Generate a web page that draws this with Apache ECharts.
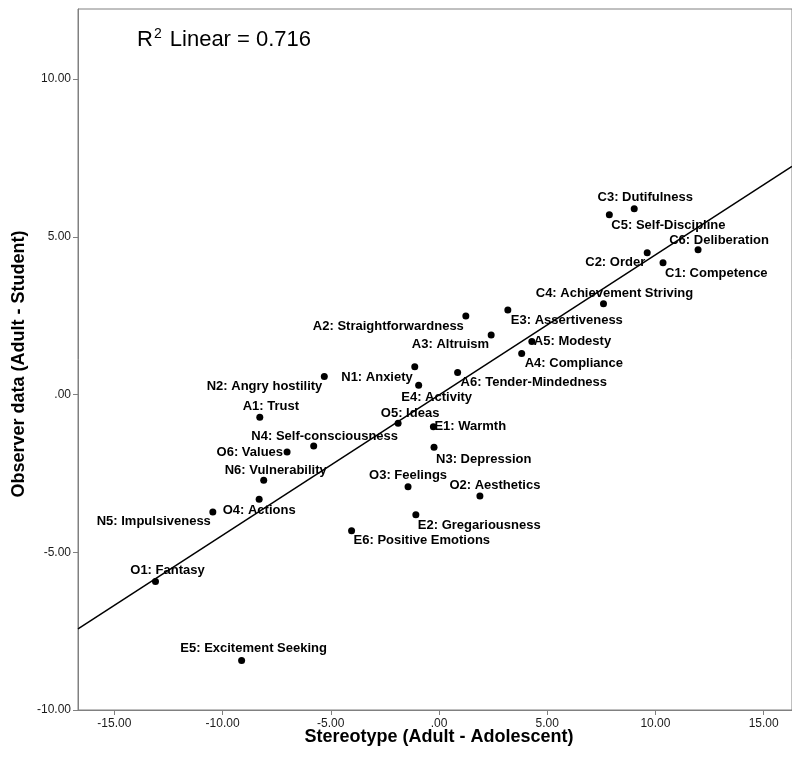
<!DOCTYPE html>
<html>
<head>
<meta charset="utf-8">
<script src="https://cdn.jsdelivr.net/npm/echarts@6/dist/echarts.min.js"></script>
<style>
  html, body { margin: 0; padding: 0; background: #fff; }
  #chart { width: 792px; height: 758px; }
</style>
</head>
<body>
<div id="chart"></div>
<script>
// ---------- data ----------
const facetNames = [
  'N1: Anxiety', 'N2: Angry hostility', 'N3: Depression', 'N4: Self-consciousness',
  'N5: Impulsiveness', 'N6: Vulnerability',
  'E1: Warmth', 'E2: Gregariousness', 'E3: Assertiveness', 'E4: Activity',
  'E5: Excitement Seeking', 'E6: Positive Emotions',
  'O1: Fantasy', 'O2: Aesthetics', 'O3: Feelings', 'O4: Actions', 'O5: Ideas', 'O6: Values',
  'A1: Trust', 'A2: Straightforwardness', 'A3: Altruism', 'A4: Compliance', 'A5: Modesty',
  'A6: Tender-Mindedness',
  'C1: Competence', 'C2: Order', 'C3: Dutifulness', 'C4: Achievement Striving',
  'C5: Self-Discipline', 'C6: Deliberation'
];
const stereotypeX = [
  -1.12, -5.30, -0.23, -5.79, -10.45, -8.10,
  -0.26, -1.07, 3.18, -0.94, -9.12, -4.04,
  -13.10, 1.89, -1.43, -8.31, -1.89, -7.02,
  -8.28, 1.24, 2.41, 3.82, 4.29, 0.86,
  10.35, 9.62, 9.02, 7.60, 7.87, 11.97
];
const observerY = [
  0.88, 0.57, -1.67, -1.63, -3.72, -2.72,
  -1.02, -3.81, 2.68, 0.29, -8.43, -4.32,
  -5.93, -3.22, -2.92, -3.32, -0.91, -1.82,
  -0.72, 2.49, 1.89, 1.30, 1.68, 0.70,
  4.18, 4.49, 5.89, 2.88, 5.70, 4.59
];
// fitted linear regression line (endpoints read at the plot edges)
const fitLineX = [-16.68, 16.31];
const fitLineY = [-7.43, 7.23];
const rSquared = '0.716';
const xTickValues = [-15, -10, -5, 0, 5, 10, 15];
const yTickValues = [-10, -5, 0, 5, 10];
const xTitle = 'Stereotype (Adult - Adolescent)';
const yTitle = 'Observer data (Adult - Student)';

// ---------- label placement (style): [align, dx, dy] relative to the dot centre ----------
const labelPlace = {
  'C3: Dutifulness': ['center', 11, -11],
  'C5: Self-Discipline': ['left', 2, 11],
  'C6: Deliberation': ['center', 21, -9],
  'C2: Order': ['right', -2, 10],
  'C1: Competence': ['left', 2, 11],
  'C4: Achievement Striving': ['center', 11, -10],
  'E3: Assertiveness': ['left', 3, 10],
  'A2: Straightforwardness': ['right', -2, 10],
  'A3: Altruism': ['right', -2, 10],
  'A5: Modesty': ['left', 2, 0],
  'A4: Compliance': ['left', 3, 10],
  'A6: Tender-Mindedness': ['left', 3, 10],
  'N1: Anxiety': ['right', -2, 11],
  'E4: Activity': ['center', 18, 12],
  'O5: Ideas': ['center', 12, -10],
  'E1: Warmth': ['left', 1, 0],
  'N3: Depression': ['left', 2, 12],
  'O3: Feelings': ['center', 0, -11],
  'O2: Aesthetics': ['center', 15, -11],
  'E2: Gregariousness': ['left', 2, 11],
  'E6: Positive Emotions': ['left', 2, 10],
  'N2: Angry hostility': ['right', -2, 10],
  'A1: Trust': ['center', 11, -11],
  'N4: Self-consciousness': ['center', 11, -10],
  'O6: Values': ['right', -4, 0],
  'N6: Vulnerability': ['center', 12, -10],
  'O4: Actions': ['center', 0, 11],
  'N5: Impulsiveness': ['right', -2, 10],
  'O1: Fantasy': ['center', 12, -11],
  'E5: Excitement Seeking': ['center', 12, -12]
};

const FONT = '"Liberation Sans", Arial, sans-serif';
const axisGray = '#808080';
const SYM = 7;

const scatterData = facetNames.map((name, i) => {
  const p = labelPlace[name] || ['center', 0, -10];
  return {
    name: name,
    value: [stereotypeX[i], observerY[i]],
    label: {
      position: [SYM / 2 + p[1], SYM / 2 + p[2]],
      align: p[0], verticalAlign: 'middle'
    }
  };
});

const fmt = v => (v === 0 ? '.00' : v.toFixed(2));

const chart = echarts.init(document.getElementById('chart'), null, { renderer: 'canvas' });
chart.setOption({
  animation: false,
  backgroundColor: '#fff',
  grid: {
    left: 78, top: 9, right: -2, bottom: 48,
    show: true, borderColor: axisGray, borderWidth: 1, backgroundColor: 'transparent'
  },
  xAxis: {
    type: 'value', min: fitLineX[0], max: fitLineX[1],
    splitLine: { show: false },
    axisLine: { show: true, onZero: false, lineStyle: { color: axisGray, width: 1 } },
    axisTick: { show: true, inside: false, length: 5, customValues: xTickValues,
      lineStyle: { color: axisGray } },
    axisLabel: { customValues: xTickValues, formatter: fmt, margin: 8,
      color: '#1a1a1a', fontSize: 12, fontFamily: FONT }
  },
  yAxis: {
    type: 'value', min: -10, max: 12.22,
    splitLine: { show: false },
    axisLine: { show: true, onZero: false, lineStyle: { color: axisGray, width: 1 } },
    axisTick: { show: true, inside: false, length: 5, customValues: yTickValues,
      lineStyle: { color: axisGray } },
    axisLabel: { customValues: yTickValues, formatter: fmt, margin: 7,
      color: '#1a1a1a', fontSize: 12, fontFamily: FONT }
  },
  title: {
    text: '{a|R}{s|2}{a| Linear = ' + rSquared + '}',
    left: 137, top: 27, padding: 0,
    textStyle: {
      fontWeight: 'normal',
      rich: {
        a: { fontSize: 22, fontWeight: 'normal', fontFamily: FONT, color: '#000', verticalAlign: 'bottom', lineHeight: 24 },
        s: { fontSize: 14, fontWeight: 'normal', fontFamily: FONT, color: '#000', verticalAlign: 'top', lineHeight: 24, padding: [0, 2, 0, 1] }
      }
    }
  },
  graphic: [
    {
      type: 'text', x: 439, y: 737,
      style: { text: xTitle, font: 'bold 18px ' + FONT, fill: '#000',
        textAlign: 'center', textVerticalAlign: 'middle' }
    },
    {
      type: 'text', x: 19, y: 364, rotation: Math.PI / 2,
      style: { text: yTitle, font: 'bold 18px ' + FONT, fill: '#000',
        textAlign: 'center', textVerticalAlign: 'middle' }
    }
  ],
  series: [
    {
      type: 'line',
      data: fitLineX.map((x, i) => [x, fitLineY[i]]),
      showSymbol: false, symbol: 'none',
      lineStyle: { color: '#000', width: 1.5 },
      z: 3, silent: true
    },
    {
      type: 'scatter',
      data: scatterData,
      symbol: 'circle', symbolSize: SYM,
      itemStyle: { color: '#000', opacity: 1 },
      label: {
        show: true,
        formatter: p => p.name,
        color: '#000', fontSize: 13, fontWeight: 'bold', fontFamily: FONT
      },
      z: 2
    }
  ]
});
</script>
</body>
</html>
